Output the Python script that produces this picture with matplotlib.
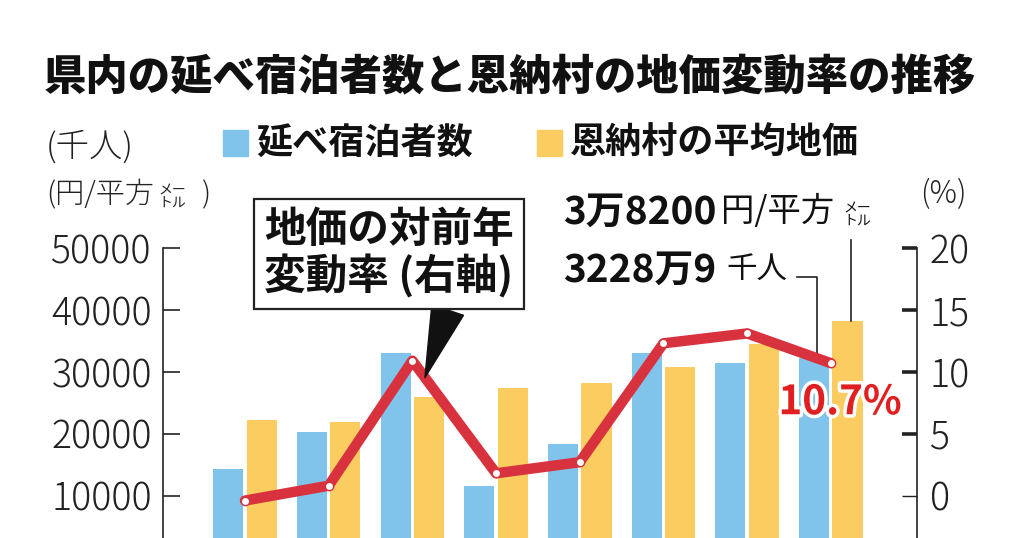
import numpy as np
import matplotlib
matplotlib.use('Agg')
import matplotlib.pyplot as plt
import matplotlib.patheffects as pe
from matplotlib.patches import Rectangle

plt.rcParams['font.family'] = ['Noto Sans CJK JP', 'DejaVu Sans']

# =============================================================================
# data
# =============================================================================
visitors = [14300, 20200, 33000, 11600, 18300, 33000, 31400, 32289]   # 千人
prices = [22200, 21950, 25900, 27350, 28150, 30850, 34500, 38200]     # 円/平方メートル
rates = [-0.4, 0.8, 10.9, 1.8, 2.7, 12.3, 13.1, 10.7]                 # %

left_ticks = [0, 10000, 20000, 30000, 40000, 50000]
right_ticks = [-5, 0, 5, 10, 15, 20]

title = '県内の延べ宿泊者数と恩納村の地価変動率の推移'
legend_labels = ['延べ宿泊者数', '恩納村の平均地価']

BLUE = '#80c3eb'
YELLOW = '#fbcd60'
RED = '#d8323f'
INK = '#222222'

# =============================================================================
# figure, in pixel helpers
# =============================================================================
W, H = 1024, 538
fig = plt.figure(figsize=(W / 100, H / 100), dpi=100)


def fx(px):
    return px / W


def fy(py):
    return 1 - py / H


ax = fig.add_axes([fx(163), fy(557.5), fx(917) - fx(163), fy(248) - fy(557.5)])
ax2 = ax.twinx()

x = np.arange(len(visitors))
ax.bar(x - 0.2, visitors, width=0.36, color=BLUE, zorder=2)
ax.bar(x + 0.2, prices, width=0.36, color=YELLOW, zorder=2)
ax.set_xlim(-0.98, 8.03)
ax.set_ylim(0, 50000)
ax2.set_ylim(-5, 20)
ax.set_xticks([])

ax2.plot(x, rates, color=RED, lw=7.5, solid_joinstyle='round', solid_capstyle='round',
         marker='o', ms=6, mfc='white', mec=RED, mew=1, zorder=3)

# axes styling
for a in (ax, ax2):
    a.spines['top'].set_visible(False)
    a.spines['bottom'].set_visible(False)
ax.spines['right'].set_visible(False)
ax2.spines['left'].set_visible(False)
ax.spines['left'].set_linewidth(1.2)
ax.spines['left'].set_color(INK)
ax2.spines['right'].set_linewidth(1.2)
ax2.spines['right'].set_color(INK)

ax.set_yticks(left_ticks, [str(v) for v in left_ticks], fontsize=27, fontweight='light', color=INK)
ax.tick_params(axis='y', direction='in', length=12, width=1.2, pad=8, color=INK)
ax2.set_yticks(right_ticks, [str(v) for v in right_ticks], fontsize=27, fontweight='light', color=INK)
ax2.tick_params(axis='y', direction='in', length=11, width=2.6, pad=9, color=INK)
ax2.yaxis.get_major_ticks()[1].tick2line.set_markeredgewidth(1.0)

# =============================================================================
# texts
# =============================================================================
fig.text(fx(510), fy(78), title, ha='center', va='center', fontsize=30.5, fontweight='heavy', color='#111')

fig.add_artist(Rectangle((fx(223), fy(156)), fx(25), fy(130) - fy(156), color=BLUE, transform=fig.transFigure))
fig.add_artist(Rectangle((fx(537), fy(156)), fx(25), fy(130) - fy(156), color=YELLOW, transform=fig.transFigure))
fig.text(fx(256), fy(143), legend_labels[0], ha='left', va='center', fontsize=26, fontweight='bold', color='#111')
fig.text(fx(570), fy(143), legend_labels[1], ha='left', va='center', fontsize=26, fontweight='bold', color='#111')

# axis units
fig.text(fx(46), fy(147), '(千人)', ha='left', va='center', fontsize=24, fontweight='light', color=INK)
fig.text(fx(46), fy(195), '(円/平方', ha='left', va='center', fontsize=21, fontweight='light', color=INK)
fig.text(fx(158), fy(196), 'メー\nトル', ha='left', va='center', fontsize=10, linespacing=0.95, color=INK)
fig.text(fx(202), fy(195), ')', ha='left', va='center', fontsize=21, fontweight='light', color=INK)
fig.text(fx(920), fy(194), '(%)', ha='left', va='center', fontsize=22, fontweight='light', color=INK)

# callout pointing at the 3rd point of the rate line
tip = (x[2] + 0.15, rates[2] + 0.15 * (rates[3] - rates[2]))
ax2.annotate('地価の対前年\n変動率 (右軸)', xy=tip, xycoords='data',
             xytext=(fx(389), fy(254)), textcoords='figure fraction',
             ha='center', va='center', fontsize=30, fontweight='bold', linespacing=1.1, color='#111',
             bbox=dict(boxstyle='square,pad=0.25', fc='white', ec=INK, lw=1.6),
             arrowprops=dict(arrowstyle='wedge,tail_width=0.8,shrink_factor=0.5', fc='#111', ec='#111',
                             relpos=(0.75, 0.0), shrinkA=0, shrinkB=0),
             zorder=5)

# latest values
fig.text(fx(563), fy(212), '3万8200', ha='left', va='center', fontsize=28, fontweight='bold', color='#111')
fig.text(fx(721), fy(212), '円/平方', ha='left', va='center', fontsize=24, color='#111')
fig.text(fx(843), fy(214), 'メー\nトル', ha='left', va='center', fontsize=10, linespacing=0.95, color='#111')
fig.text(fx(563), fy(270), '3228万9', ha='left', va='center', fontsize=28, fontweight='bold', color='#111')
fig.text(fx(726), fy(270), '千人', ha='left', va='center', fontsize=22, color='#111')

# leader lines
ax.plot([6.6, 6.83, 6.83], [45350, 45350, visitors[-1]], color=INK, lw=1.2, zorder=2.5)
ax.plot([7.24, 7.24], [51300, prices[-1]], color=INK, lw=1.2, zorder=2.5, clip_on=False)

ax2.text(7.11, 7.5, f'{rates[-1]}%', ha='center', va='center', fontsize=29, fontweight='bold', color='#e02020',
         path_effects=[pe.withStroke(linewidth=5, foreground='white')], zorder=6)

fig.savefig('out.png', dpi=100)
